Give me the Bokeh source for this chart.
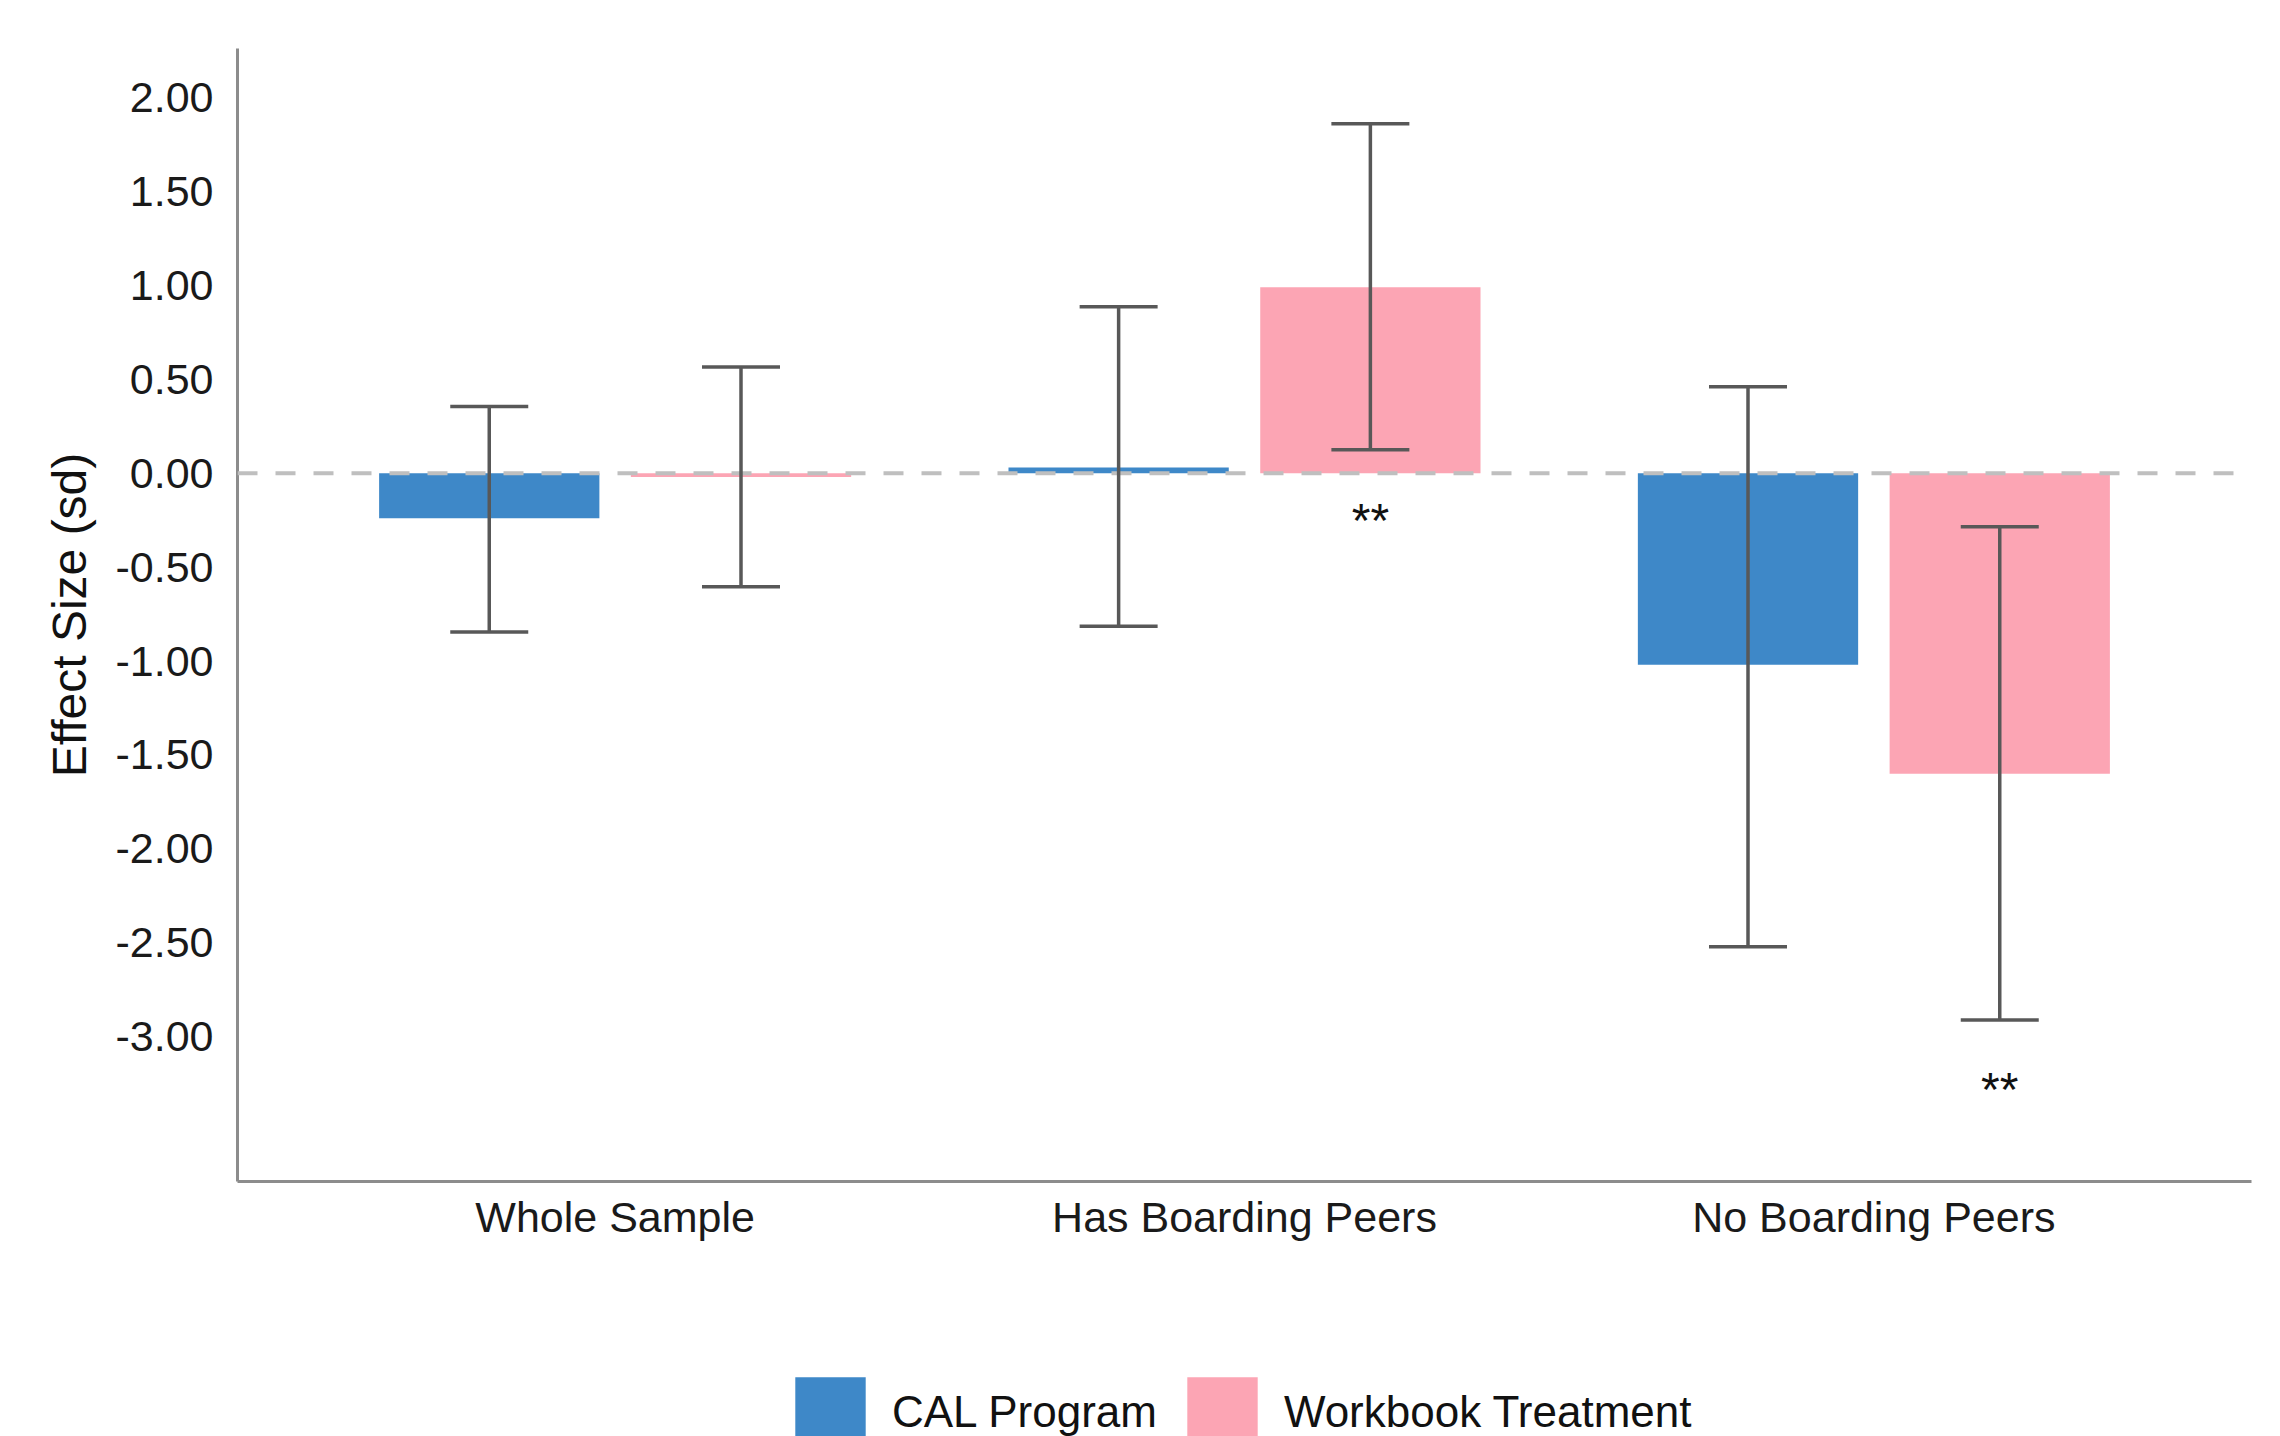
from bokeh.plotting import figure
from bokeh.layouts import column
from bokeh.models import (ColumnDataSource, Range1d, FixedTicker, PrintfTickFormatter,
                          Whisker, TeeHead, Span, Legend, LegendItem)
from bokeh.embed import file_html
from bokeh.resources import INLINE
from bokeh.core.properties import value

# ---- data ----
categories = ["Whole Sample", "Has Boarding Peers", "No Boarding Peers"]
series_names = ["CAL Program", "Workbook Treatment"]

cal_effect = [-0.24, 0.03, -1.02]
cal_lower = [-0.845, -0.815, -2.52]
cal_upper = [0.355, 0.885, 0.46]

wb_effect = [-0.02, 0.99, -1.60]
wb_lower = [-0.605, 0.125, -2.91]
wb_upper = [0.565, 1.86, -0.285]

wb_stars = ["", "**", "**"]
wb_star_y = [0.0, -0.25, -3.28]

y_ticks = [2.0, 1.5, 1.0, 0.5, 0.0, -0.5, -1.0, -1.5, -2.0, -2.5, -3.0]

# ---- styling ----
FONT = "Liberation Sans"
BLUE = "#3E88C8"
PINK = "#FCA5B4"
ERR = "#585858"
colors = [BLUE, PINK]

cat_pos = [i + 1 for i in range(len(categories))]
off = 0.2
bar_w = 0.35

cal_src = ColumnDataSource(dict(
    x=[c - off for c in cat_pos], top=cal_effect, lower=cal_lower, upper=cal_upper))
wb_src = ColumnDataSource(dict(
    x=[c + off for c in cat_pos], top=wb_effect, lower=wb_lower, upper=wb_upper))
sources = [cal_src, wb_src]

star_idx = [i for i, s in enumerate(wb_stars) if s]
star_src = ColumnDataSource(dict(
    x=[cat_pos[i] + off for i in star_idx],
    y=[wb_star_y[i] for i in star_idx],
    t=[wb_stars[i] for i in star_idx]))

p = figure(width=2280, height=1300, output_backend="svg", toolbar_location=None,
           x_range=Range1d(0.4, 3.6), y_range=Range1d(-3.77, 2.26),
           min_border_left=237, min_border_right=29, min_border_top=48,
           min_border_bottom=119)

p.outline_line_color = None
p.xgrid.grid_line_color = None
p.ygrid.grid_line_color = None
p.background_fill_color = "white"
p.border_fill_color = "white"

for src, col in zip(sources, colors):
    p.vbar(x="x", top="top", bottom=0, width=bar_w, source=src,
           fill_color=col, line_color=None)

zero = Span(location=0, dimension="width", line_color="#BFBFBF",
            line_width=4, line_dash="20 18", level="annotation")
p.add_layout(zero)

for src in sources:
    w = Whisker(source=src, base="x", upper="upper", lower="lower",
                line_color=ERR, line_width=3.5, level="annotation",
                upper_head=TeeHead(size=78, line_color=ERR, line_width=3.5),
                lower_head=TeeHead(size=78, line_color=ERR, line_width=3.5))
    p.add_layout(w)

p.text(x="x", y="y", text="t", source=star_src, text_align="center",
       text_baseline="middle", text_font=value(FONT), text_font_size="48px",
       text_color="#111111")

# axes
p.xaxis.ticker = FixedTicker(ticks=cat_pos)
p.xaxis.major_label_overrides = {c: n for c, n in zip(cat_pos, categories)}
p.yaxis.ticker = FixedTicker(ticks=y_ticks)
p.yaxis.formatter = PrintfTickFormatter(format="%.2f")
p.yaxis.axis_label = "Effect Size (sd)"

for ax in (p.xaxis[0], p.yaxis[0]):
    ax.axis_line_color = "#8C8C8C"
    ax.axis_line_width = 3
    ax.major_tick_line_color = None
    ax.minor_tick_line_color = None
    ax.major_label_text_font = FONT
    ax.major_label_text_font_size = "43px"
    ax.major_label_text_color = "#1A1A1A"
p.yaxis.major_label_standoff = 18
p.xaxis.major_label_standoff = 5

p.yaxis.axis_label_text_font = FONT
p.yaxis.axis_label_text_font_size = "48px"
p.yaxis.axis_label_text_font_style = "normal"
p.yaxis.axis_label_text_color = "#111111"
p.yaxis.axis_label_standoff = 16

# ---- legend strip below the chart (its ranges keep the bars out of view) ----
leg = figure(width=2280, height=136, output_backend="svg", toolbar_location=None,
             x_range=Range1d(100, 101), y_range=Range1d(100, 101),
             x_axis_location=None, y_axis_location=None,
             min_border_left=0, min_border_right=0, min_border_top=0,
             min_border_bottom=0)
leg.outline_line_color = None
leg.xgrid.grid_line_color = None
leg.ygrid.grid_line_color = None

items = []
for name, src, col in zip(series_names, sources, colors):
    r = leg.vbar(x="x", top="top", bottom=0, width=bar_w, source=src,
                 fill_color=col, line_color=None)
    items.append(LegendItem(label=name, renderers=[r]))

legend = Legend(items=items, location=(549, -20), orientation="horizontal",
                glyph_width=88, glyph_height=88, padding=0, margin=0,
                spacing=21, label_standoff=18,
                label_text_font=FONT, label_text_font_size="44px",
                label_text_color="#111111",
                border_line_alpha=0, background_fill_alpha=0)
leg.add_layout(legend)

layout = column(p, leg, spacing=0)
open("out.html", "w").write(file_html(layout, INLINE))
